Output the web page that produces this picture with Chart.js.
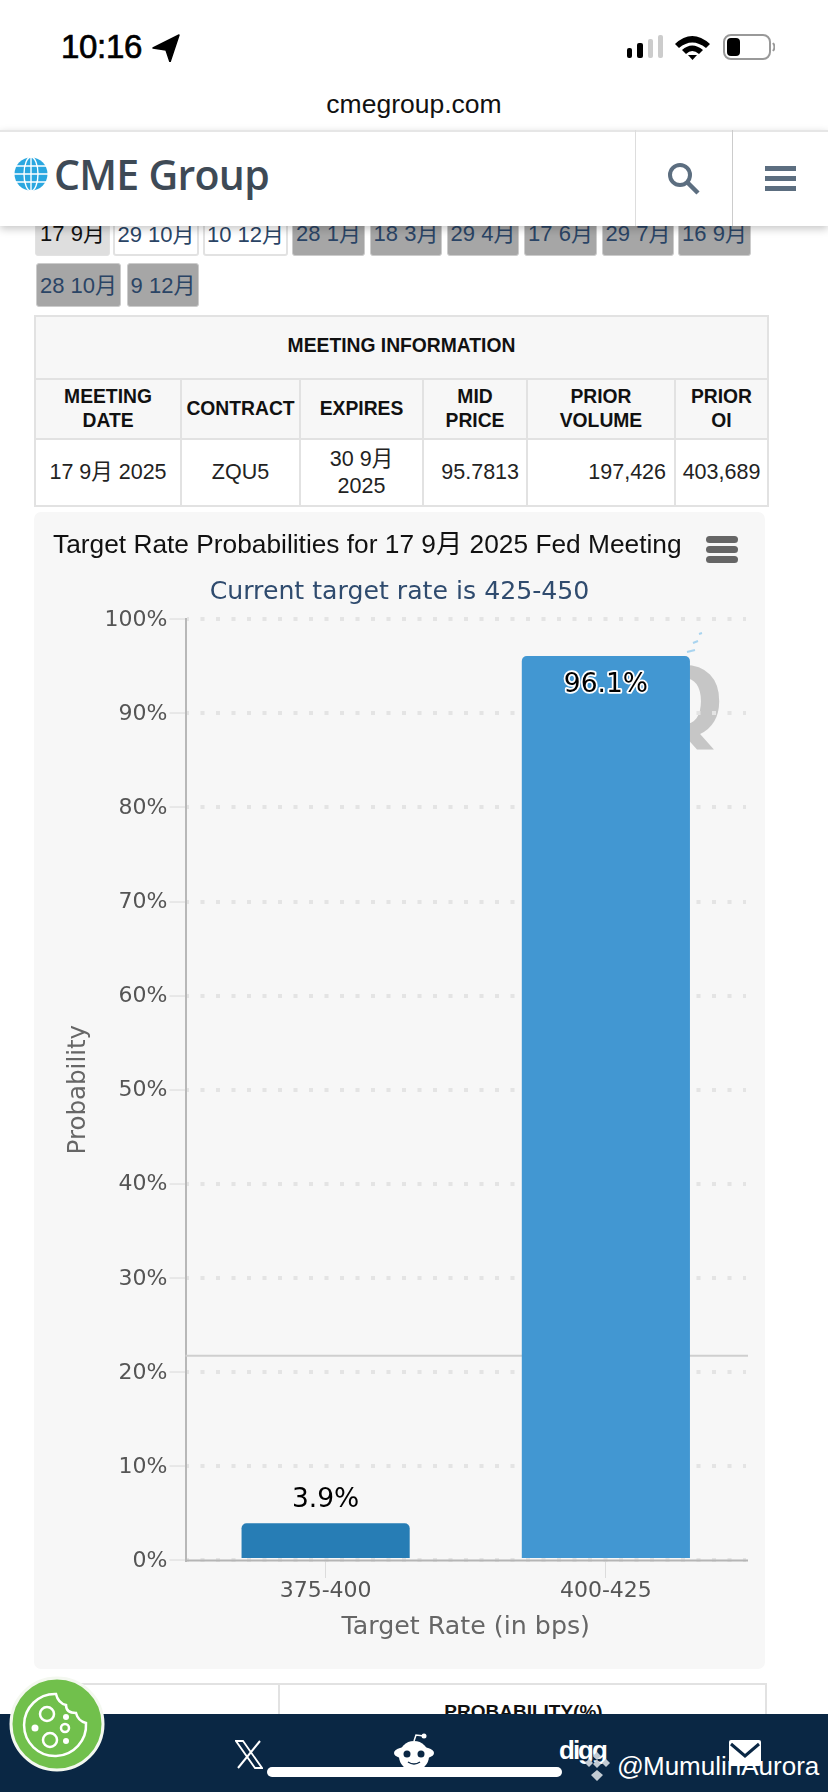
<!DOCTYPE html>
<html><head><meta charset="utf-8">
<script src="https://cdn.jsdelivr.net/npm/chart.js@4"></script>
<style>
html,body{margin:0;padding:0;background:#fff;width:828px;height:1792px;overflow:hidden}
body{position:relative;font-family:"Liberation Sans","Noto Sans CJK SC",sans-serif;color:#000}
.a{position:absolute}
.tab{position:absolute;box-sizing:border-box;border-radius:3px;text-align:center;font-size:22px;color:#2a4465;white-space:nowrap;border:1px solid #ccc;background:#a6a6a6}
.tab.w{background:#fff;border:2px solid #e2e2e2}
.tab.s{background:#dedede;color:#111;border:1px solid #e2e2e2}
table{border-collapse:collapse;table-layout:fixed}
td,th{border:2px solid #e2e2e2;text-align:center;padding:0;overflow:hidden}
th{background:#f7f7f7;font-size:19.3px;line-height:24px;color:#111}
td{background:#fff;font-size:21.5px;line-height:27px;color:#222;white-space:nowrap}
</style></head><body>
<div class="a" style="left:61px;top:24px;font-size:33px;font-weight:400;-webkit-text-stroke:.7px #000;letter-spacing:-.3px;line-height:46px">10:16</div>
<svg class="a" style="left:152px;top:32px" width="30" height="30"><path d="M1 16 L27 3 L18 30 L14 18Z" fill="#000" stroke="#000" stroke-width="1.500" stroke-linejoin="round"/></svg>
<svg class="a" style="left:625px;top:33px" width="150" height="30">
<rect x="2" y="15" width="5" height="10" rx="2" fill="#000"/><rect x="12" y="10" width="6" height="15" rx="2" fill="#000"/><rect x="23" y="6" width="5" height="19" rx="2" fill="#ccc"/><rect x="33" y="2" width="5" height="23" rx="2" fill="#ccc"/>
<path d="M50 11 Q67 -5 85 11 L81 15 Q67 4 54 15Z M57 17 Q67 8 78 17 L74 21 Q67 15 61 21Z" fill="#000"/><path d="M63 22 L72 22 L67.500 27Z" fill="#000"/>
<rect x="99" y="2" width="46" height="24" rx="7" fill="none" stroke="#999" stroke-width="2"/><rect x="102" y="5" width="13" height="18" rx="4" fill="#000"/><path d="M148 10 q3 4 0 8" stroke="#999" stroke-width="2" fill="none"/></svg>
<div class="a" style="left:0;width:828px;top:88px;text-align:center;font-size:26.5px;line-height:32px;color:#111">cmegroup.com</div>

<div class="tab s" style="left:35px;top:200px;width:75px;height:56px;line-height:65px">17 9月</div>
<div class="tab w" style="left:113px;top:200px;width:86px;height:56px;line-height:65px">29 10月</div>
<div class="tab w" style="left:203px;top:200px;width:85px;height:56px;line-height:65px">10 12月</div>
<div class="tab" style="left:292px;top:200px;width:73px;height:56px;line-height:65px">28 1月</div>
<div class="tab" style="left:370px;top:200px;width:72px;height:56px;line-height:65px">18 3月</div>
<div class="tab" style="left:447px;top:200px;width:72px;height:56px;line-height:65px">29 4月</div>
<div class="tab" style="left:524px;top:200px;width:73px;height:56px;line-height:65px">17 6月</div>
<div class="tab" style="left:602px;top:200px;width:72px;height:56px;line-height:65px">29 7月</div>
<div class="tab" style="left:678px;top:200px;width:73px;height:56px;line-height:65px">16 9月</div>
<div class="tab" style="left:36px;top:263px;width:85px;height:44px;line-height:44px">28 10月</div>
<div class="tab" style="left:127px;top:263px;width:72px;height:44px;line-height:44px">9 12月</div>

<div class="a" style="left:0;top:130px;width:828px;height:96px;background:#fff;border-top:2px solid #e6e6e6;box-sizing:border-box;box-shadow:0 3px 8px rgba(0,0,0,.22)"></div>
<div class="a" style="left:635px;top:130px;width:1px;height:96px;background:#ddd"></div>
<div class="a" style="left:732px;top:130px;width:1px;height:96px;background:#ccc"></div>
<svg class="a" style="left:13px;top:156px" width="36" height="36" viewBox="0 0 36 36"><circle cx="18" cy="18" r="16.500" fill="#2aa7e0"/><g stroke="#fff" stroke-width="1.400" fill="none"><ellipse cx="18" cy="18" rx="7" ry="17"/><path d="M18 1V35M3 10H33M1 18H35M3 26H33"/></g></svg>
<div class="a" style="left:54px;top:147px;font-family:'Open Sans';font-weight:600;font-size:41px;letter-spacing:-.7px;line-height:54px;color:#3e4a56;white-space:nowrap">CME Group</div>
<svg class="a" style="left:666px;top:161px" width="36" height="36"><circle cx="14" cy="14" r="10" fill="none" stroke="#5c6e80" stroke-width="4"/><path d="M21 21 L32 32" stroke="#5c6e80" stroke-width="4.500"/></svg>
<div class="a" style="left:765px;top:166px;width:31px;height:5px;background:#5c6e80"></div>
<div class="a" style="left:765px;top:176px;width:31px;height:5px;background:#5c6e80"></div>
<div class="a" style="left:765px;top:186px;width:31px;height:5px;background:#5c6e80"></div>

<table class="a" style="left:34px;top:315px;width:733px">
<colgroup><col style="width:146px"><col style="width:119px"><col style="width:123px"><col style="width:104px"><col style="width:148px"><col style="width:93px"></colgroup>
<tr style="height:63px"><th colspan="6" style="padding-bottom:4px">MEETING INFORMATION</th></tr>
<tr style="height:60px"><th>MEETING<br>DATE</th><th>CONTRACT</th><th>EXPIRES</th><th>MID<br>PRICE</th><th>PRIOR<br>VOLUME</th><th>PRIOR<br>OI</th></tr>
<tr style="height:67px"><td>17 9月 2025</td><td>ZQU5</td><td>30 9月<br>2025</td><td style="text-align:right;padding-right:7px">95.7813</td><td style="text-align:right;padding-right:8px">197,426</td><td>403,689</td></tr>
</table>

<div class="a" style="left:34px;top:512px;width:731px;height:1157px;background:#f7f7f7;border-radius:7px"></div>
<div class="a" style="left:644px;top:644px;font-family:'DejaVu Sans';font-weight:700;font-size:94px;line-height:120px;color:#c6c6c6">Q</div>
<svg class="a" style="left:686px;top:632px" width="20" height="26"><path d="M13 2 L16 1 M7 11 L12 9 M1 20 L9 18" stroke="#a9d4ef" stroke-width="2"/></svg>
<canvas id="c" class="a" style="left:34px;top:512px" width="731" height="1157"></canvas>
<div class="a" style="left:706px;top:536px;width:32px;height:7px;border-radius:4px;background:#666"></div>
<div class="a" style="left:706px;top:546px;width:32px;height:7px;border-radius:4px;background:#666"></div>
<div class="a" style="left:706px;top:556px;width:32px;height:7px;border-radius:4px;background:#666"></div>

<div class="a" style="left:34px;top:1683px;width:733px;height:40px;border:2px solid #e2e2e2;box-sizing:border-box"></div>
<div class="a" style="left:278px;top:1683px;width:2px;height:40px;background:#e2e2e2"></div>
<div class="a" style="left:280px;top:1701px;width:487px;text-align:center;font-size:19px;font-weight:700;line-height:22px;color:#111">PROBABILITY(%)</div>

<div class="a" style="left:0;top:1714px;width:828px;height:78px;background:#0a2744"></div>
<svg class="a" style="left:8px;top:1675px" width="100" height="100"><circle cx="49" cy="49" r="46" fill="#71c04c" stroke="#f4f8f0" stroke-width="3"/><g fill="none" stroke="#fff" stroke-width="2.500"><path d="M48 19 A31 31 0 1 0 78 48 Q70 46 68 38 Q58 38 58 30 Q50 28 48 19Z"/><circle cx="39" cy="39" r="7"/><circle cx="42" cy="65" r="7"/><circle cx="57" cy="53" r="4"/></g><circle cx="27" cy="53" r="3.500" fill="#fff"/><circle cx="58" cy="66" r="3" fill="#fff"/><circle cx="58" cy="42" r="3" fill="#fff"/></svg>
<svg class="a" style="left:235px;top:1740px" width="28" height="29"><path d="M1 1 L8 1 L27 28 L20 28Z" fill="none" stroke="#fff" stroke-width="1.800"/><path d="M25 1 L3 28" stroke="#fff" stroke-width="2"/></svg>
<svg class="a" style="left:393px;top:1733px" width="42" height="36"><circle cx="21" cy="23" r="15" fill="#fff"/><ellipse cx="21" cy="20" rx="20" ry="7" fill="#fff"/><path d="M21 8 L23 2 L31 3" stroke="#fff" stroke-width="1.500" fill="none"/><circle cx="31" cy="3" r="2.500" fill="#fff"/><circle cx="14" cy="21" r="3.500" fill="#0a2744"/><circle cx="28" cy="21" r="3.500" fill="#0a2744"/><path d="M15 29 Q21 33 27 29" stroke="#0a2744" stroke-width="1.500" fill="none"/></svg>
<div class="a" style="left:559px;top:1733px;font-size:26px;font-weight:700;letter-spacing:-2px;line-height:34px;color:#fff">digg</div>
<svg class="a" style="left:729px;top:1740px" width="33" height="26"><rect width="32" height="26" rx="2" fill="#fff"/><path d="M2 4 L16 16 L30 4" stroke="#0a2744" stroke-width="3" fill="none"/></svg>
<svg class="a" style="left:583px;top:1750px" width="30" height="32"><g fill="#c3cbd3"><path d="M14 2l4 4-4 4-4-4zM6 9l4 4-4 4-4-4zM23 9l4 4-4 4-4-4zM14 10l4 4-4 4-4-4zM14 20l6 5-6 6-6-6z"/></g></svg>
<div class="a" style="left:617px;top:1747px;font-family:'Liberation Sans';font-size:26.5px;line-height:38px;color:#fff">@</div>
<div class="a" style="left:643px;top:1747px;font-family:'Liberation Sans';font-size:26px;line-height:38px;color:#fff;white-space:nowrap">MumulinAurora</div>
<div class="a" style="left:267px;top:1767px;width:295px;height:10px;border-radius:5px;background:#fff"></div>

<script>
const categories = ['375-400', '400-425'];
const probabilities = [3.9, 96.1];
const barLabels = ['3.9%', '96.1%'];
const barColors = ['#277db5', '#4297d2'];
const strayLineValue = 21.7;
const chartTitle = 'Target Rate Probabilities for 17 9月 2025 Fed Meeting';
const chartSubtitle = 'Current target rate is 425-450';
const yTitle = 'Probability';
const xTitle = 'Target Rate (in bps)';

const tickFont = {family:"'DejaVu Sans'", size:22};
const axisExtras = {
  id:'axisExtras',
  beforeDatasetsDraw(chart){
    const {ctx, scales:{x,y}} = chart;
    const yy = y.getPixelForValue(strayLineValue);
    ctx.save();
    ctx.strokeStyle = '#cfcfcf'; ctx.lineWidth = 2;
    ctx.beginPath(); ctx.moveTo(x.left, yy); ctx.lineTo(x.right + 2, yy); ctx.stroke();
    ctx.restore();
  },
  afterDraw(chart){
    const {ctx, scales:{x,y}} = chart;
    const yy = y.getPixelForValue(0);
    ctx.save();
    ctx.strokeStyle = '#b5b5b5'; ctx.lineWidth = 2;
    ctx.beginPath(); ctx.moveTo(x.left, yy + .5); ctx.lineTo(x.right + 2, yy + .5); ctx.stroke();
    ctx.restore();
  }
};
const barValueLabels = {
  id:'barValueLabels',
  afterDatasetsDraw(chart){
    const {ctx} = chart;
    const offsets = [-23, 29];
    chart.getDatasetMeta(0).data.forEach((el, i) => {
      ctx.save();
      ctx.font = "26.5px 'DejaVu Sans'";
      ctx.textAlign = 'center'; ctx.textBaseline = 'middle';
      ctx.lineJoin = 'round';
      ctx.lineWidth = 3.5; ctx.strokeStyle = i ? '#fff' : '#f7f7f7';
      ctx.strokeText(barLabels[i], el.x, el.y + offsets[i]);
      ctx.fillStyle = '#000';
      ctx.fillText(barLabels[i], el.x, el.y + offsets[i]);
      ctx.restore();
    });
  }
};
new Chart(document.getElementById('c'), {
  type:'bar',
  data:{labels:categories, datasets:[{data:probabilities, backgroundColor:barColors,
    borderRadius:{topLeft:5, topRight:5, bottomLeft:0, bottomRight:0}, borderSkipped:false,
    categoryPercentage:1, barPercentage:0.6}]},
  options:{
    responsive:false, animation:false, devicePixelRatio:1,
    layout:{padding:{left:19, right:19, top:0, bottom:0}},
    plugins:{
      legend:{display:false}, tooltip:{enabled:false},
      title:{display:true, align:'start', text:chartTitle, color:'#111',
        font:{family:"'Liberation Sans','Noto Sans CJK SC'", size:26.3, weight:'normal', lineHeight:1.2},
        padding:{top:18, bottom:0}},
      subtitle:{display:true, text:chartSubtitle, color:'#2f4b6e',
        font:{family:"'DejaVu Sans'", size:25.2, lineHeight:1.2},
        padding:{top:15.3, bottom:12.2}}
    },
    scales:{
      x:{
        afterFit(s){ s.height = 109; },
        grid:{drawOnChartArea:false, drawTicks:true, offset:false, tickLength:18, tickColor:'#dcdcdc', tickWidth:1},
        border:{display:false},
        ticks:{color:'#555', font:tickFont, padding:0, maxRotation:0},
        title:{display:true, text:xTitle, color:'#666', font:{family:"'DejaVu Sans'", size:25.3, lineHeight:1.2}, padding:{top:0, bottom:26}}
      },
      y:{
        min:0, max:100,
        afterFit(s){ s.width = 132.5; },
        grid:{color:'#e4e4e4', lineWidth:4, tickLength:16, tickColor:'#d8d8d8', tickWidth:1, tickBorderDash:[]},
        border:{display:true, color:'#b8b8b8', width:2, dash:[4,11.5], dashOffset:2},
        ticks:{stepSize:10, color:'#555', font:tickFont, padding:2, labelOffset:1, callback:v => v + '%'},
        title:{display:true, text:yTitle, color:'#666', font:{family:"'DejaVu Sans'", size:24.5, lineHeight:1.2}, padding:{top:10.500, bottom:0}}
      }
    }
  },
  plugins:[axisExtras, barValueLabels]
});
</script>
</body></html>
